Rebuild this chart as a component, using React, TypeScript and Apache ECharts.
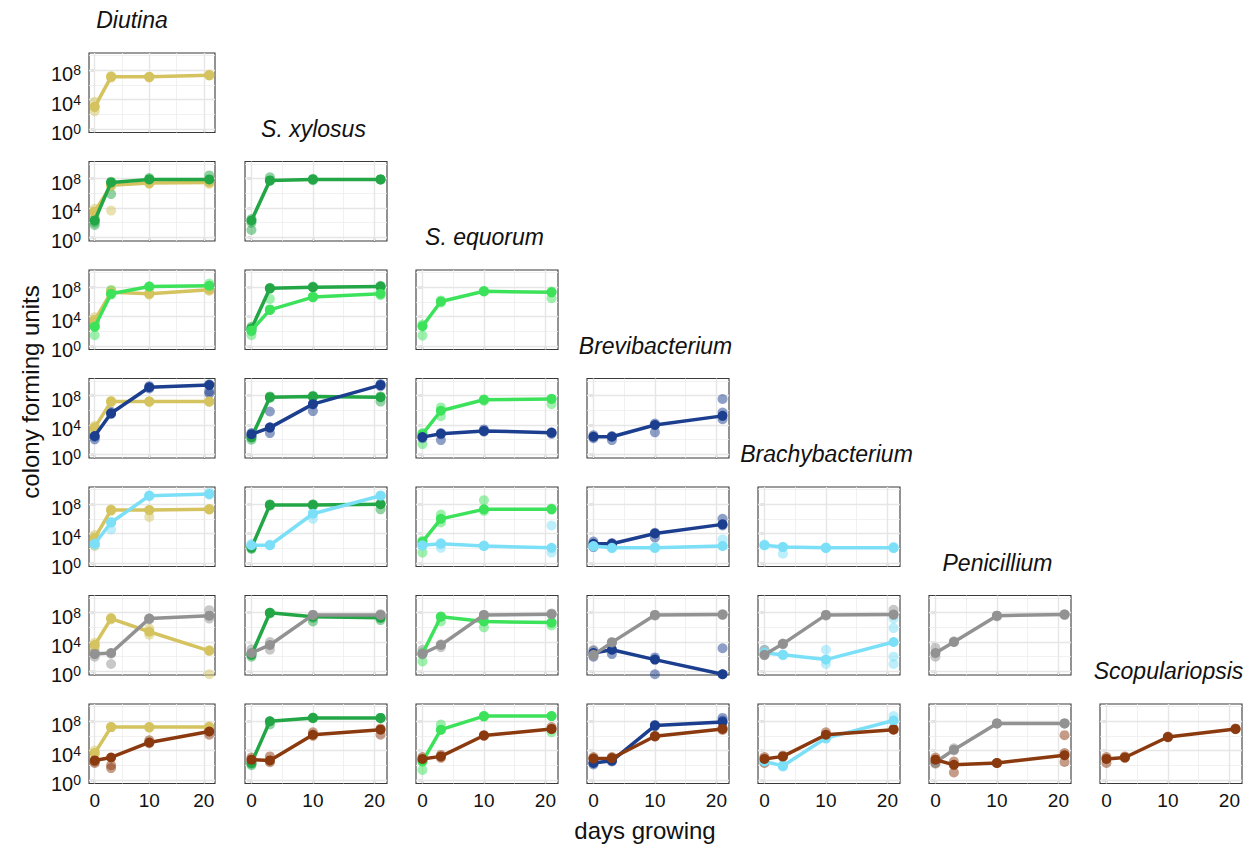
import React, { useEffect, useRef } from "react";
import * as echarts from "echarts";

// ---------- data (log10 colony forming units) ----------
const days = [0, 3, 10, 21];
const taxa = ["Diutina", "S. xylosus", "S. equorum", "Brevibacterium", "Brachybacterium", "Penicillium", "Scopulariopsis"];
const taxaColors = ["#D4C35E", "#22A646", "#3DE25B", "#1B3E8F", "#7ADFF7", "#929292", "#8B3A0F"];
const yTickValues = [0, 4, 8];
const yMinorValues = [2, 6, 10];
const xTickValues = [0, 10, 20];
const xMinorValues = [5, 15];

// each panel: [column taxon, row taxon] (diagonal: single taxon)
// means per day, and replicate values per day
const mean_1_1 = [[3.0, 7.1, 7.1, 7.3]];
const reps_1_1 = [[[3.7, 2.4, 3.0], [7.0, 7.2], [7.1, 7.0], [7.3, 7.4]]];

const mean_2_1 = [[3.5, 7.1, 7.4, 7.5], [2.3, 7.5, 7.9, 7.9]];
const reps_2_1 = [
  [[3.9, 3.4, 3.0], [7.2, 3.65, 7.0], [7.3, 7.5], [7.3, 7.6]],
  [[2.5, 2.05, 1.7], [7.6, 5.9, 7.4], [8.1, 7.9], [8.45, 7.75]],
];
const mean_2_2 = [[2.3, 7.77, 7.9, 7.9]];
const reps_2_2 = [[[2.5, 1.0, 2.0], [8.2, 7.7], [8.0, 7.8], [7.9, 7.9]]];

const mean_3_1 = [[3.5, 7.3, 7.1, 7.65], [2.6, 7.1, 8.1, 8.2]];
const reps_3_1 = [
  [[3.9, 3.3, 3.0], [7.2, 7.6], [7.0, 7.2], [7.5, 7.8]],
  [[2.6, 1.45, 2.9], [7.6, 7.0], [8.1, 8.0], [8.5, 8.1]],
];
const mean_3_2 = [[2.35, 7.85, 8.0, 8.1], [2.1, 4.9, 6.65, 7.1]];
const reps_3_2 = [
  [[2.6, 2.0], [7.9, 7.8], [8.0, 8.1], [8.2, 8.0]],
  [[2.3, 1.45], [6.4, 4.9, 5.0], [6.6, 6.8], [7.3, 6.9]],
];
const mean_3_3 = [[2.67, 6.05, 7.45, 7.3]];
const reps_3_3 = [[[2.9, 1.4], [6.2, 5.9], [7.5, 7.4], [7.4, 6.5]]];

const mean_4_1 = [[3.65, 7.2, 7.2, 7.2], [2.5, 5.6, 9.15, 9.45]];
const reps_4_1 = [
  [[3.9, 3.4, 3.1], [7.3, 7.1], [7.2, 7.2], [7.2, 7.2]],
  [[2.05, 2.4], [5.5, 5.8], [9.3, 9.0], [9.55, 8.3, 8.6]],
];
const mean_4_2 = [[2.3, 7.8, 7.9, 7.8], [2.75, 3.65, 6.85, 9.45]];
const reps_4_2 = [
  [[2.5, 2.0], [7.9, 7.7], [8.0, 7.8], [7.2, 7.9]],
  [[2.9, 2.5], [2.9, 5.85, 3.7], [5.9, 6.9], [9.6, 9.3]],
];
const mean_4_3 = [[2.75, 5.95, 7.45, 7.55], [2.35, 2.8, 3.2, 2.95]];
const reps_4_3 = [
  [[1.4, 2.9], [6.4, 5.2], [7.5, 7.3], [6.85, 7.6]],
  [[2.5, 2.2], [1.95, 2.9], [3.4, 3.1], [3.0, 2.8]],
];
const mean_4_4 = [[2.4, 2.4, 4.0, 5.25]];
const reps_4_4 = [[[2.6, 2.2], [1.95, 2.5], [3.0, 4.2], [7.55, 5.7, 4.8]]];

const mean_5_1 = [[3.4, 7.2, 7.2, 7.3], [2.6, 5.5, 9.15, 9.4]];
const reps_5_1 = [
  [[3.8, 2.3, 3.2], [7.3, 7.1], [6.25, 7.2], [7.3, 7.3]],
  [[2.4, 2.7], [4.55, 5.6], [9.2, 9.1], [9.6, 9.3]],
];
const mean_5_2 = [[2.05, 7.9, 7.9, 8.0], [2.4, 2.4, 6.7, 9.15]];
const reps_5_2 = [
  [[2.3, 1.9], [8.0, 7.8], [8.0, 7.8], [7.3, 8.1]],
  [[2.6, 2.2], [2.4, 2.5], [6.0, 6.8], [9.2, 9.1]],
];
const mean_5_3 = [[2.85, 6.0, 7.3, 7.3], [2.4, 2.6, 2.3, 2.05]];
const reps_5_3 = [
  [[1.4, 3.0], [6.6, 5.5], [8.55, 7.1], [7.3, 7.4]],
  [[2.5, 2.3], [2.05, 2.7], [2.3, 2.4], [5.1, 1.4]],
];
const mean_5_4 = [[2.6, 2.6, 4.0, 5.25], [2.3, 2.05, 2.05, 2.3]];
const reps_5_4 = [
  [[2.15, 2.9], [2.3, 2.7], [3.45, 4.1], [6.0, 5.1]],
  [[2.4, 2.2], [2.1, 2.0], [2.05, 2.1], [3.2, 2.3]],
];
const mean_5_5 = [[2.4, 2.15, 2.05, 2.05]];
const reps_5_5 = [[[2.5, 2.4], [1.25, 2.2], [2.1, 2.0], [2.2, 2.0]]];

const mean_6_1 = [[3.6, 7.2, 5.4, 2.8], [2.35, 2.5, 7.2, 7.6]];
const reps_6_1 = [
  [[3.9, 2.7, 3.3], [7.1, 7.3], [5.85, 5.0], [-0.4, 2.9]],
  [[2.0, 2.6], [1.0, 2.4], [7.2, 7.1], [8.35, 7.2]],
];
const mean_6_2 = [[2.25, 8.0, 7.45, 7.3], [2.5, 3.6, 7.7, 7.7]];
const reps_6_2 = [
  [[2.0, 2.4], [8.0, 7.9], [6.8, 7.3], [7.0, 7.4]],
  [[3.0, 2.4], [2.95, 4.0], [7.7, 7.6], [7.8, 7.6]],
];
const mean_6_3 = [[2.4, 7.45, 6.8, 6.65], [2.4, 3.6, 7.7, 7.8]];
const reps_6_3 = [
  [[1.35, 2.6], [6.8, 7.5], [6.0, 6.9], [6.25, 6.7]],
  [[2.95, 2.3], [3.3, 3.7], [7.7, 7.6], [7.8, 7.9]],
];
const mean_6_4 = [[2.5, 2.95, 1.6, -0.4], [2.25, 3.95, 7.7, 7.75]];
const reps_6_4 = [
  [[2.0, 2.8], [2.35, 3.0], [1.9, -0.4], [3.15, -0.4]],
  [[2.95, 2.1], [3.9, 4.0], [7.7, 7.6], [7.8, 7.7]],
];
const mean_6_5 = [[2.5, 2.25, 1.6, 4.0], [2.25, 3.75, 7.7, 7.75]];
const reps_6_5 = [
  [[2.95, 2.4], [2.2, 2.3], [2.95, 1.0], [7.2, 5.9, 2.0, 1.0]],
  [[2.95, 2.2], [3.8, 3.7], [7.6, 7.7], [8.4, 7.7]],
];
const mean_6_6 = [[2.5, 4.0, 7.6, 7.75]];
const reps_6_6 = [[[3.2, 2.0], [4.0, 4.1], [7.6, 7.5], [7.8, 7.7]]];

const mean_7_1 = [[3.65, 7.2, 7.2, 7.2], [2.65, 3.05, 5.1, 6.6]];
const reps_7_1 = [
  [[3.2, 4.0], [7.2, 7.2], [7.2, 7.1], [6.85, 7.3]],
  [[2.3, 2.5], [2.0, 1.6], [5.4, 5.0], [6.15, 6.95]],
];
const mean_7_2 = [[2.3, 8.0, 8.45, 8.45], [2.75, 2.65, 6.15, 6.85]];
const reps_7_2 = [
  [[2.0, 2.2], [7.55, 8.0], [8.5, 8.4], [8.45, 8.4]],
  [[3.05, 2.6], [3.2, 2.4], [6.5, 6.0], [6.15, 7.0]],
];
const mean_7_3 = [[2.5, 6.85, 8.7, 8.7], [2.85, 3.2, 6.05, 6.95]];
const reps_7_3 = [
  [[1.35, 2.6], [7.55, 6.8], [8.7, 8.6], [6.5, 8.7]],
  [[3.1, 2.7], [3.4, 3.0], [6.1, 6.0], [7.2, 6.9]],
];
const mean_7_4 = [[2.3, 2.6, 7.4, 7.9], [2.9, 2.95, 5.95, 6.95]];
const reps_7_4 = [
  [[2.1, 2.4], [2.5, 2.7], [7.5, 7.3], [8.45, 8.1]],
  [[3.1, 2.8], [3.0, 3.1], [6.0, 5.9], [7.1, 6.8]],
];
const mean_7_5 = [[2.5, 1.9, 5.7, 8.1], [2.85, 3.2, 6.15, 6.85]];
const reps_7_5 = [
  [[2.6, 2.4], [1.8, 2.0], [5.6, 5.8], [8.7, 8.0]],
  [[2.3, 3.1], [3.3, 3.1], [6.5, 6.1], [6.9, 7.0]],
];
const mean_7_6 = [[2.4, 4.1, 7.7, 7.7], [2.75, 2.05, 2.3, 3.35]];
const reps_7_6 = [
  [[2.2, 2.6], [4.0, 4.3], [7.7, 7.7], [7.7, 7.7]],
  [[3.05, 2.3], [2.5, 1.0], [2.3, 2.3], [6.1, 3.65, 2.45]],
];
const mean_7_7 = [[2.85, 3.05, 5.85, 6.95]];
const reps_7_7 = [[[2.3, 3.1], [3.2, 3.0], [5.9, 5.8], [7.0, 6.9]]];

const panelMeans = [
  [mean_1_1],
  [mean_2_1, mean_2_2],
  [mean_3_1, mean_3_2, mean_3_3],
  [mean_4_1, mean_4_2, mean_4_3, mean_4_4],
  [mean_5_1, mean_5_2, mean_5_3, mean_5_4, mean_5_5],
  [mean_6_1, mean_6_2, mean_6_3, mean_6_4, mean_6_5, mean_6_6],
  [mean_7_1, mean_7_2, mean_7_3, mean_7_4, mean_7_5, mean_7_6, mean_7_7],
];
const panelReps = [
  [reps_1_1],
  [reps_2_1, reps_2_2],
  [reps_3_1, reps_3_2, reps_3_3],
  [reps_4_1, reps_4_2, reps_4_3, reps_4_4],
  [reps_5_1, reps_5_2, reps_5_3, reps_5_4, reps_5_5],
  [reps_6_1, reps_6_2, reps_6_3, reps_6_4, reps_6_5, reps_6_6],
  [reps_7_1, reps_7_2, reps_7_3, reps_7_4, reps_7_5, reps_7_6, reps_7_7],
];

// ---------- layout ----------
const FONT = "'Liberation Sans', Arial, Helvetica, sans-serif";
const TXT = "#111111";
const ROW_TOP0 = 53;
const ROW_PITCH = 108.5;
const PANEL_H = 79.5;
const COL_LEFT1 = 245;
const COL_PITCH = 171;
const PANEL_W = 142;

function panelRect(r: number, c: number) {
  const top = ROW_TOP0 + r * ROW_PITCH;
  if (c === 0) return { left: 89, top, width: 126, height: PANEL_H };
  return { left: COL_LEFT1 + (c - 1) * COL_PITCH, top, width: PANEL_W, height: PANEL_H };
}

function buildOption() {
  const grid: any[] = [];
  const xAxis: any[] = [];
  const yAxis: any[] = [];
  const series: any[] = [];
  const graphic: any[] = [];
  let k = 0;
  for (let r = 0; r < 7; r++) {
    for (let c = 0; c <= r; c++) {
      const rect = panelRect(r, c);
      grid.push({
        ...rect,
        show: true,
        backgroundColor: "#ffffff",
        borderColor: "#3a3a3a",
        borderWidth: 1.1,
        containLabel: false,
        z: 0,
      });
      xAxis.push({
        type: "value",
        gridIndex: k,
        min: -1.05,
        max: 22.05,
        axisLine: { show: false },
        splitLine: { show: false },
        axisTick: { show: true, customValues: xTickValues, length: 4, lineStyle: { color: "#333333", width: 1.3 } },
        axisLabel: {
          show: r === 6,
          customValues: xTickValues,
          fontSize: 19,
          fontFamily: FONT,
          color: TXT,
          margin: 7,
        },
      });
      yAxis.push({
        type: "value",
        gridIndex: k,
        min: -0.5,
        max: 10.35,
        axisLine: { show: false },
        splitLine: { show: false },
        axisTick: { show: true, customValues: yTickValues, length: 4, lineStyle: { color: "#333333", width: 1.3 } },
        axisLabel: {
          show: c === 0,
          customValues: yTickValues,
          margin: 8,
          formatter: (v: number) => `{b|10}{s|${v}}`,
          rich: {
            b: { fontSize: 20, fontFamily: FONT, color: TXT, padding: [8, 0, 0, 0] },
            s: { fontSize: 14, fontFamily: FONT, color: TXT },
          },
        },
      });
      // background grid lines through the axes' scales
      const major = { color: "#E6E6E6", width: 1.4, type: "solid" };
      const minor = { color: "#EEEEEE", width: 0.8, type: "solid" };
      series.push({
        type: "line",
        xAxisIndex: k,
        yAxisIndex: k,
        data: [],
        z: 1,
        silent: true,
        markLine: {
          silent: true,
          z: 1,
          symbol: ["none", "none"],
          label: { show: false },
          emphasis: { disabled: true },
          animation: false,
          data: [
            ...yMinorValues.map((v) => ({ yAxis: v, lineStyle: minor })),
            ...xMinorValues.map((v) => ({ xAxis: v, lineStyle: minor })),
            ...yTickValues.map((v) => ({ yAxis: v, lineStyle: major })),
            ...xTickValues.map((v) => ({ xAxis: v, lineStyle: major })),
          ],
        },
      });
      const present = c === r ? [r] : [c, r];
      const means = panelMeans[r][c];
      const reps = panelReps[r][c];
      present.forEach((t, i) => {
        const col = taxaColors[t];
        const repPts: number[][] = [];
        reps[i].forEach((vals: number[], d: number) => vals.forEach((v) => repPts.push([days[d], v])));
        series.push({
          type: "scatter",
          name: taxa[t],
          xAxisIndex: k,
          yAxisIndex: k,
          data: repPts,
          symbol: "circle",
          symbolSize: 10,
          clip: false,
          z: 3,
          itemStyle: { color: col, opacity: 0.5 },
          silent: true,
        });
        series.push({
          type: "line",
          name: taxa[t],
          xAxisIndex: k,
          yAxisIndex: k,
          data: days.map((d, j) => [d, means[i][j]]),
          symbol: "circle",
          symbolSize: 10,
          showSymbol: true,
          clip: false,
          z: 4 + i,
          lineStyle: { color: col, width: 3.5 },
          itemStyle: { color: col, opacity: 1 },
          silent: true,
        });
      });
      if (c === r) {
        const cx = c === 0 ? 132 : rect.left + rect.width / 2 - 2.5;
        graphic.push({
          type: "text",
          x: cx,
          y: rect.top - 33,
          style: {
            text: taxa[r],
            fontSize: 23,
            fontStyle: "italic",
            fontFamily: FONT,
            fill: TXT,
            align: "center",
            verticalAlign: "middle",
          },
        });
      }
      k++;
    }
  }
  graphic.push({
    type: "text",
    x: 30,
    y: 392,
    rotation: Math.PI / 2,
    style: {
      text: "colony forming units",
      fontSize: 24,
      fontFamily: FONT,
      fill: TXT,
      align: "center",
      verticalAlign: "middle",
    },
  });
  graphic.push({
    type: "text",
    x: 645,
    y: 830,
    style: {
      text: "days growing",
      fontSize: 24,
      fontFamily: FONT,
      fill: TXT,
      align: "center",
      verticalAlign: "middle",
    },
  });
  return {
    animation: false,
    backgroundColor: "#ffffff",
    grid,
    xAxis,
    yAxis,
    series,
    graphic,
  };
}

export default function App() {
  const ref = useRef<HTMLDivElement>(null);
  useEffect(() => {
    document.body.style.margin = "0";
    if (!ref.current) return;
    const chart = echarts.init(ref.current, undefined, { renderer: "svg" });
    chart.setOption(buildOption() as any);
    return () => chart.dispose();
  }, []);
  return <div ref={ref} style={{ width: 1258, height: 844 }} />;
}
